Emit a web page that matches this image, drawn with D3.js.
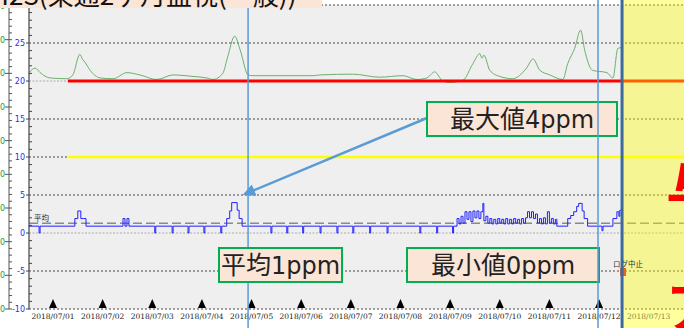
<!DOCTYPE html>
<html><head><meta charset="utf-8">
<script src="https://cdn.jsdelivr.net/npm/d3@7"></script>
<style>html,body{margin:0;padding:0;background:#fff;overflow:hidden}</style>
</head><body>
<svg id="c" width="684" height="328"></svg>
<script>
// ---- data ----
const dateLabels = ["2018/07/01","2018/07/02","2018/07/03","2018/07/04","2018/07/05","2018/07/06","2018/07/07","2018/07/08","2018/07/09","2018/07/10","2018/07/11","2018/07/12","2018/07/13"];
const yTicks = [30,25,20,15,10,5,0,-5,-10];
const greenTicks = [45,40,35,30,25,20,15,10,5,0];
// green series: time in days from 2018/07/01 00:00, value
const greenT = [-0.48,-0.36,-0.26,-0.06,0.28,0.40,0.54,0.60,0.64,0.75,0.95,1.21,1.49,1.75,2.09,2.42,2.82,3.10,3.22,3.42,3.52,3.66,3.77,3.93,4.03,4.71,5.24,5.38,6.04,6.58,7.05,7.33,7.53,7.69,7.85,7.99,8.26,8.46,8.60,8.64,8.68,8.80,9.00,9.26,9.54,9.67,9.81,10.01,10.27,10.37,10.51,10.63,10.71,10.87,11.16,11.28,11.38,11.46];
const greenV = [21.1,21.7,21.1,20.4,20.3,20.8,23.5,22.8,22.5,21.4,20.4,20.3,21.1,20.8,20.2,20.8,20.6,20.4,20.2,21.0,23.2,25.9,24.1,20.8,20.7,20.7,20.7,20.8,20.9,20.5,20.7,20.2,20.4,21.2,20.0,19.8,20.1,22.3,23.6,23.0,23.4,21.4,20.6,20.3,21.7,22.9,21.4,20.8,20.2,22.3,24.3,26.7,24.1,21.4,21.1,20.4,24.3,24.4];
// blue series (step)
const blueT = [-0.49,-0.28,-0.26,0.44,0.50,0.56,0.62,0.665,1.41,1.45,1.49,1.53,2.05,2.07,2.40,2.42,2.72,2.74,3.04,3.06,3.38,3.40,3.50,3.56,3.60,3.71,3.75,3.81,4.39,4.41,4.71,4.73,5.03,5.05,5.38,5.40,5.72,5.74,6.04,6.06,6.38,6.40,6.73,6.75,7.39,7.41,7.73,7.75,8.05,8.07,
 8.14,8.18,8.22,8.26,8.30,8.34,8.38,8.42,8.46,8.50,8.54,8.58,8.62,8.66,8.68,8.72,8.76,8.80,8.84,8.88,8.92,8.96,9.00,9.04,9.08,9.12,9.16,9.20,9.24,9.28,9.32,9.36,9.40,9.44,9.48,9.52,9.56,9.60,9.64,9.68,9.72,9.76,9.80,9.84,9.88,9.92,9.96,10.00,10.04,10.08,10.12,10.15,
 10.37,10.43,10.49,10.55,10.59,10.66,10.70,10.77,11.06,11.08,11.28,11.36,11.40,11.42,11.46];
const blueV = [0.9,0.0,0.9,1.9,2.9,1.9,1.9,0.9,1.9,0.9,1.9,0.9,0.0,0.9,0.0,0.9,0.0,0.9,0.0,0.9,0.0,0.9,1.9,2.9,4.0,3.0,1.9,0.9,0.0,0.9,0.0,0.9,0.0,0.9,0.0,0.9,0.0,0.9,0.0,0.9,0.0,0.9,0.0,0.9,0.0,0.9,0.0,0.9,0.0,0.9,
 1.9,1.2,2.2,1.3,2.8,1.8,2.8,1.5,2.9,2.0,2.9,1.9,2.8,3.9,1.6,2.2,1.3,1.9,1.2,1.8,1.2,1.9,1.3,1.8,1.2,1.9,1.2,1.8,1.2,1.9,1.3,1.8,1.2,1.9,1.3,2.0,2.8,2.0,2.8,1.9,2.5,1.3,1.9,1.2,2.0,1.2,2.8,1.3,1.9,1.2,1.8,0.9,
 1.9,2.3,2.8,3.5,3.9,2.9,1.9,0.9,0.3,0.9,1.9,2.8,2.2,3.0,3.0];
const avgValue = 1.28;
const redLevel = 20, yellowLevel = 10, refStart = 0.30;
const markLines = [3.93, 10.98];
const logStop = 11.464;
const notes = [
  {text:"最大値", num:"4ppm", d:[427,102,190,34]},
  {text:"平均", num:"1ppm", d:[219,248,123,34]},
  {text:"最小値", num:"0ppm", d:[407,248,192,34]}
];

// ---- scales ----
const svg = d3.select("#c");
const x = d3.scaleLinear().domain([-0.4835, 12.712]).range([29, 684]);
const y = d3.scaleLinear().domain([-10, 30]).range([309, 5]);
const yg = d3.scaleLinear().domain([0, 45]).range([309, 6]);
const plotR = x(logStop);
const CJK = "'Noto Sans CJK JP', sans-serif";

// background
svg.append("rect").attr("x",29).attr("y",5).attr("width",684-29).attr("height",304).attr("fill","#efefef");

// grid lines
yTicks.forEach(v=>{
  const light = (v===20 || v===0);
  svg.append("line").attr("x1",29).attr("x2",684).attr("y1",y(v)).attr("y2",y(v))
    .attr("stroke", light? "#aaa":"#444").attr("stroke-width",1)
    .attr("stroke-dasharray", light? "2,1.5":"2,2");
});

// average dashed line
svg.append("line").attr("x1",29).attr("x2",684).attr("y1",y(avgValue)).attr("y2",y(avgValue))
  .attr("stroke","#8a8a8a").attr("stroke-width",1.3).attr("stroke-dasharray","9,4");
svg.append("text").attr("x",34).attr("y",y(avgValue)-2).attr("font-size",7.5).attr("font-family",CJK).attr("fill","#222").text("平均");

// green line
const gData = greenT.map((t,i)=>[t,greenV[i]]);
svg.append("path").datum(gData).attr("fill","none").attr("stroke","#6cb06c").attr("stroke-width",1)
  .attr("d", d3.line().x(d=>x(d[0])).y(d=>y(d[1])).curve(d3.curveMonotoneX));

// blue line
const bData = blueT.map((t,i)=>[t,blueV[i]]);
svg.append("path").datum(bData).attr("fill","none").attr("stroke","#2020ff").attr("stroke-width",1)
  .attr("d", d3.line().x(d=>x(d[0])).y(d=>y(d[1])).curve(d3.curveStepAfter));

// threshold lines
svg.append("line").attr("x1",x(refStart)).attr("x2",684).attr("y1",y(redLevel)).attr("y2",y(redLevel))
  .attr("stroke","#ff0000").attr("stroke-width",3);
svg.append("line").attr("x1",x(refStart)).attr("x2",684).attr("y1",y(yellowLevel)).attr("y2",y(yellowLevel))
  .attr("stroke","#ffff00").attr("stroke-width",2.5);

// yellow future region
svg.append("rect").attr("x",plotR).attr("y",0).attr("width",684-plotR).attr("height",328)
  .attr("fill","#ffff00").attr("opacity",0.38);

// x axis triangles and labels
dateLabels.forEach((lab,i)=>{
  const cx = x(i);
  if (i < 12) {
    svg.append("path").attr("d",`M${cx-4},308 L${cx},299 L${cx+4},308 Z`).attr("fill","#000");
  }
  svg.append("text").attr("x",cx).attr("y",319).attr("text-anchor","middle")
    .attr("font-size",7.5).attr("font-family","'DejaVu Serif', serif")
    .attr("fill", i<12? "#222":"#8a8a40").text(lab);
});

// left blue axis
svg.append("line").attr("x1",29).attr("x2",29).attr("y1",5).attr("y2",309).attr("stroke","#444").attr("stroke-width",1.2);
d3.range(-10,31,1).forEach(v=>{
  svg.append("line").attr("x1",29).attr("x2",v%5===0?29:32).attr("y1",y(v)).attr("y2",y(v)).attr("stroke","#444");
});
yTicks.forEach(v=>{
  svg.append("line").attr("x1",26).attr("x2",29).attr("y1",y(v)).attr("y2",y(v)).attr("stroke","#444");
  svg.append("text").attr("x",25).attr("y",y(v)+3).attr("text-anchor","end").attr("font-size",8)
    .attr("font-family","'DejaVu Sans', sans-serif").attr("fill","#2a2aff").text(v);
});

// outer green axis
svg.append("line").attr("x1",9).attr("x2",9).attr("y1",6).attr("y2",309).attr("stroke","#555");
d3.range(0,46,1).forEach(v=>{
  svg.append("line").attr("x1",9).attr("x2",12).attr("y1",yg(v)).attr("y2",yg(v)).attr("stroke","#555");
});
greenTicks.forEach(v=>{
  svg.append("line").attr("x1",5).attr("x2",9).attr("y1",yg(v)).attr("y2",yg(v)).attr("stroke","#555");
  svg.append("text").attr("x",5).attr("y",yg(v)+3).attr("text-anchor","end").attr("font-size",8)
    .attr("font-family","'DejaVu Sans', sans-serif").attr("fill","#2a9a2a").text(v.toFixed(1));
});

// vertical marker line (under boxes)
svg.append("line").attr("x1",x(markLines[0])).attr("x2",x(markLines[0])).attr("y1",0).attr("y2",328)
  .attr("stroke","#5b9bd5").attr("stroke-width",1.5);

// arrow
svg.append("defs").append("marker").attr("id","ah").attr("viewBox","0 0 10 10").attr("refX",8).attr("refY",5)
  .attr("markerWidth",5).attr("markerHeight",5).attr("orient","auto")
  .append("path").attr("d","M0,0 L10,5 L0,10 Z").attr("fill","#5b9bd5");
svg.append("line").attr("x1",427).attr("y1",118).attr("x2",245).attr("y2",194)
  .attr("stroke","#5b9bd5").attr("stroke-width",2.5).attr("marker-end","url(#ah)");

// annotation boxes
notes.forEach(n=>{
  const [bx,by,bw,bh] = n.d;
  svg.append("rect").attr("x",bx).attr("y",by).attr("width",bw).attr("height",bh)
    .attr("fill","#fbe5d6").attr("stroke","#00b050").attr("stroke-width",2);
  const t = svg.append("text").attr("x",bx+bw/2).attr("y",by+bh/2+9).attr("text-anchor","middle")
    .attr("font-size",25).attr("font-family",CJK).attr("fill","#222");
  t.append("tspan").text(n.text);
  t.append("tspan").attr("font-family","'DejaVu Sans', sans-serif").attr("font-size",24).text(n.num);
});

// second marker line (over boxes)
svg.append("line").attr("x1",x(markLines[1])).attr("x2",x(markLines[1])).attr("y1",0).attr("y2",328)
  .attr("stroke","#5b9bd5").attr("stroke-width",1.5);

// log stop
svg.append("text").attr("x",613).attr("y",267).attr("font-size",7.5).attr("font-family",CJK).attr("fill","#333").text("ログ中止");
svg.append("rect").attr("x",620).attr("y",268).attr("width",6).attr("height",8).attr("fill","#f06020");
svg.append("line").attr("x1",plotR).attr("x2",plotR).attr("y1",0).attr("y2",328).attr("stroke","#3d6a99").attr("stroke-width",3);

// big red text (cut off)
svg.append("text").attr("x",666).attr("y",210).attr("font-size",54).attr("font-family",CJK).attr("font-weight","bold").attr("fill","#ff0000").text("与");
svg.append("text").attr("x",666).attr("y",328).attr("font-size",54).attr("font-family",CJK).attr("font-weight","bold").attr("fill","#ff0000").text("ア");

// title box (cut off at top)
svg.append("rect").attr("x",0).attr("y",0).attr("width",322).attr("height",8).attr("fill","#fbe5d6");
svg.append("text").attr("x",-10).attr("y",5).attr("font-size",26).attr("font-family",CJK).attr("fill","#111").text("H2S(東通2ヶ月監視(一般))");
</script>
</body></html>
